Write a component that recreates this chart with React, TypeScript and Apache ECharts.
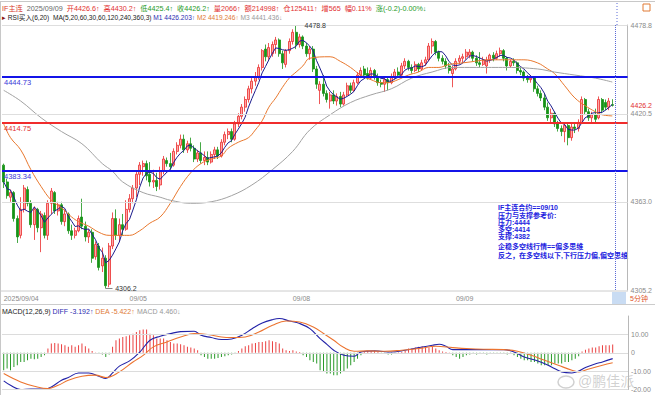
import React, { useEffect, useRef } from "react";
import * as echarts from "echarts";

const FONT = '"Liberation Sans", Arial, "Noto Sans CJK SC", sans-serif';

// ---------- axis / tick data ----------
const slotCount = 184;
const dayStartIdx = [0, 37, 85, 133];
const dayLabels = ["2025/09/04", "09/05", "09/08", "09/09"];
const priceMin = 4305.2;
const priceMax = 4478.8;
const priceAxisLabels = [4478.8, 4426.2, 4420.5, 4363.0, 4305.2];
const priceGridLines = [4478.8, 4420.5, 4363.0];
const lastPrice = 4426.2;
const pressureLevel = 4444.73;
const pivotLevel = 4414.75;
const supportLevel = 4383.34;
const highMark = [86, 4478.8];
const lowMark = [30, 4306.2];
const nowSlot = 180;
const macdMin = -20;
const macdMax = 20;
const macdGridLines = [10, 0, -10, -20];

// ---------- candles: [open, close, low, high] ----------
const candles: number[][] = [
  [4387, 4376, 4372, 4388], [4376, 4367, 4365, 4378], [4366, 4369, 4363, 4371], [4369, 4352, 4350, 4370],
  [4352, 4340, 4336, 4354], [4341, 4358, 4339, 4366], [4358, 4372, 4356, 4374], [4371, 4362, 4360, 4373],
  [4362, 4348, 4346, 4364], [4348, 4358, 4338, 4360], [4358, 4346, 4343, 4359], [4346, 4355, 4330, 4357],
  [4354, 4341, 4339, 4356], [4341, 4362, 4338, 4364], [4362, 4370, 4355, 4372], [4369, 4357, 4355, 4370],
  [4357, 4361, 4354, 4363], [4361, 4350, 4348, 4363], [4350, 4355, 4347, 4358], [4355, 4344, 4342, 4356],
  [4344, 4341, 4338, 4348], [4341, 4344, 4339, 4346], [4344, 4352, 4343, 4354], [4353, 4347, 4345, 4365],
  [4347, 4340, 4337, 4350], [4340, 4343, 4336, 4345], [4343, 4326, 4323, 4345], [4327, 4335, 4325, 4337],
  [4334, 4320, 4318, 4336], [4321, 4326, 4317, 4333], [4326, 4308, 4306.2, 4328], [4309, 4334, 4307, 4336],
  [4334, 4352, 4332, 4356], [4352, 4341, 4338, 4358], [4341, 4348, 4337, 4352], [4348, 4345, 4341, 4355],
  [4345, 4358, 4344, 4364], [4358, 4365, 4356, 4368], [4365, 4372, 4362, 4374], [4372, 4381, 4366, 4383],
  [4381, 4387, 4374, 4389], [4386, 4388, 4380, 4390], [4388, 4380, 4377, 4390], [4381, 4376, 4373, 4389],
  [4376, 4377, 4372, 4384], [4377, 4373, 4370, 4382], [4374, 4383, 4371, 4386], [4383, 4391, 4381, 4393],
  [4390, 4388, 4386, 4392], [4388, 4386, 4384, 4395], [4387, 4396, 4386, 4398], [4396, 4400, 4394, 4402],
  [4400, 4404, 4398, 4407], [4404, 4397, 4395, 4407], [4397, 4401, 4395, 4403], [4401, 4398, 4396, 4405],
  [4398, 4391, 4389, 4400], [4391, 4395, 4389, 4397], [4395, 4390, 4388, 4402], [4390, 4392, 4387, 4396],
  [4392, 4389, 4387, 4396], [4389, 4394, 4388, 4396], [4394, 4397, 4391, 4399], [4397, 4393, 4391, 4399],
  [4393, 4402, 4392, 4404], [4402, 4407, 4400, 4409], [4407, 4409, 4404, 4411], [4409, 4404, 4402, 4411],
  [4404, 4414, 4403, 4416], [4414, 4419, 4412, 4421], [4419, 4425, 4417, 4427], [4425, 4430, 4422, 4432],
  [4430, 4437, 4428, 4439], [4437, 4442, 4434, 4444], [4442, 4445, 4439, 4448], [4445, 4451, 4443, 4453],
  [4451, 4462, 4449, 4463], [4463, 4458, 4455, 4466], [4458, 4464, 4456, 4467], [4460, 4466, 4458, 4468],
  [4466, 4469, 4460, 4471], [4469, 4460, 4458, 4470], [4460, 4454, 4450, 4462], [4453, 4462, 4451, 4463],
  [4462, 4468, 4460, 4470], [4468, 4474, 4466, 4476], [4474, 4466, 4463, 4478.8], [4466, 4471, 4464, 4473],
  [4471, 4465, 4463, 4472], [4465, 4460, 4458, 4467], [4460, 4463, 4456, 4465], [4463, 4450, 4448, 4465],
  [4450, 4440, 4437, 4452], [4436, 4440, 4427, 4442], [4440, 4434, 4432, 4446], [4434, 4430, 4428, 4436],
  [4429, 4433, 4424, 4435], [4433, 4429, 4427, 4436], [4429, 4432, 4426, 4434], [4432, 4427, 4425, 4435],
  [4427, 4433, 4426, 4435], [4433, 4439, 4432, 4441], [4439, 4436, 4434, 4441], [4436, 4441, 4435, 4443],
  [4441, 4446, 4440, 4448], [4446, 4449, 4444, 4451], [4450, 4446, 4444, 4452], [4447, 4444, 4443, 4451],
  [4444, 4449, 4443, 4451], [4449, 4445, 4443, 4450], [4445, 4441, 4439, 4447], [4441, 4440, 4438, 4443],
  [4440, 4443, 4435, 4445], [4443, 4441, 4436, 4445], [4441, 4445, 4440, 4447], [4445, 4448, 4443, 4450],
  [4448, 4446, 4444, 4451], [4446, 4452, 4445, 4454], [4452, 4455, 4450, 4457], [4455, 4451, 4449, 4456],
  [4451, 4449, 4447, 4453], [4449, 4453, 4448, 4455], [4453, 4450, 4448, 4454], [4450, 4454, 4449, 4456],
  [4454, 4456, 4452, 4458], [4456, 4465, 4455, 4467], [4465, 4468, 4460, 4470], [4468, 4461, 4459, 4469],
  [4461, 4457, 4455, 4462], [4457, 4455, 4453, 4459], [4455, 4452, 4450, 4457], [4452, 4449, 4447, 4454],
  [4447, 4450, 4438, 4452], [4450, 4455, 4449, 4457], [4455, 4457, 4453, 4459], [4457, 4458, 4454, 4460],
  [4458, 4461, 4456, 4463], [4459, 4461, 4457, 4463], [4461, 4457, 4455, 4462], [4457, 4454, 4452, 4459],
  [4454, 4453, 4451, 4461], [4453, 4456, 4452, 4458], [4452, 4456, 4447, 4458], [4456, 4459, 4454, 4460],
  [4459, 4457, 4455, 4461], [4457, 4460, 4456, 4462], [4460, 4462, 4458, 4464], [4462, 4457, 4455, 4463],
  [4457, 4452, 4449, 4458], [4452, 4455, 4451, 4456], [4455, 4454, 4452, 4457], [4454, 4449, 4447, 4455],
  [4449, 4448, 4446, 4451], [4448, 4444, 4442, 4449], [4444, 4443, 4441, 4446], [4443, 4444, 4441, 4446],
  [4444, 4437, 4435, 4445], [4437, 4434, 4432, 4439], [4434, 4431, 4429, 4436], [4431, 4425, 4423, 4434],
  [4425, 4418, 4416, 4428], [4418, 4421, 4415, 4424], [4421, 4414, 4412, 4422], [4414, 4411, 4409, 4416],
  [4411, 4409, 4406, 4413], [4409, 4413, 4402, 4414], [4413, 4405, 4400, 4414], [4405, 4412, 4403, 4414],
  [4412, 4411, 4408, 4415], [4411, 4415, 4409, 4417], [4415, 4430, 4414, 4432], [4430, 4422, 4420, 4431],
  [4422, 4418, 4416, 4424], [4418, 4420, 4414, 4422], [4420, 4417, 4415, 4424], [4418, 4430, 4417, 4432],
  [4430, 4423, 4421, 4431], [4428, 4425, 4423, 4430], [4425, 4429, 4423, 4431], [4426.6, 4426.2, 4425.4, 4430.2],
];

// ---------- moving averages: [bar index, value] ----------
const ma20Points: number[][] = [
  [0, 4414], [2, 4405], [5, 4397], [8, 4384], [11, 4373], [14, 4364], [17, 4359], [20, 4353], [22, 4350],
  [25, 4347], [28, 4343], [31, 4341], [34, 4341], [37, 4341], [40, 4344], [43, 4349], [46, 4353], [49, 4362],
  [52, 4373], [55, 4382], [58, 4388], [61, 4391], [64, 4393], [66, 4398], [69, 4402], [72, 4405], [74, 4410],
  [76, 4416], [78, 4425], [80, 4431], [82, 4438], [84, 4444], [86, 4448], [88, 4452], [90, 4457], [96, 4458],
  [99, 4455], [102, 4451], [105, 4446], [108, 4443], [111, 4441], [113, 4441], [116, 4443], [119, 4446],
  [122, 4448], [125, 4451], [128, 4451], [131, 4453], [135, 4454], [144, 4456], [150, 4456], [153, 4456],
  [157, 4454], [160, 4450], [162, 4447], [165, 4439], [168, 4431], [171, 4426], [174, 4422], [176, 4420],
  [179, 4419.246],
];
const ma60Points: number[][] = [
  [0, 4436], [5, 4429], [11, 4418], [17, 4409], [23, 4401], [29, 4388], [32, 4383], [35, 4376], [41, 4369],
  [46, 4366], [49, 4364], [55, 4362], [61, 4363], [67, 4367], [73, 4374], [79, 4384], [85, 4396], [90, 4410],
  [96, 4420], [102, 4428], [108, 4433], [114, 4437], [120, 4444], [126, 4448], [132, 4451], [139, 4451],
  [148, 4451], [157, 4450], [162, 4448], [168, 4446], [174, 4444], [179, 4441.436],
];

// ---------- MACD ----------
const diffPoints: number[][] = [
  [0, -15.3], [2, -17.7], [5, -20], [8, -19.7], [12, -19.8], [14, -18.6], [17, -15], [19, -13.5], [22, -11],
  [25, -11], [28, -12.8], [30, -14], [32, -11], [34, -7.3], [37, -4.4], [40, 0.4], [43, 6.8], [46, 9],
  [49, 10.4], [52, 11.5], [56, 11.7], [58, 9.5], [61, 8.3], [64, 7.2], [67, 7.5], [70, 9.5], [73, 13.1],
  [76, 16.2], [79, 18], [81, 18.6], [84, 17.3], [87, 15.9], [90, 13.1], [93, 7.7], [95, 4.6], [97, 1.4],
  [100, -1.4], [103, -1.9], [105, 0.4], [109, 1], [114, 0.4], [118, 1.4], [122, 2.8], [126, 4.1], [128, 4.6],
  [130, 3.5], [132, 1.7], [136, 1.7], [141, 1.7], [147, 1.7], [150, 0.4], [153, -2.3], [157, -4.5],
  [161, -7.7], [164, -10.4], [167, -11], [169, -10], [171, -8], [174, -6], [176, -5], [179, -3.192],
];
const deaPoints: number[][] = [
  [0, -11.3], [5, -15.9], [9, -18.2], [13, -19.5], [16, -17.7], [19, -15], [23, -12.8], [27, -12.2],
  [30, -13.5], [34, -10.4], [38, -5], [41, -1.4], [44, 3.2], [48, 5.9], [52, 8.6], [56, 10.4], [60, 9.9],
  [64, 8.6], [67, 8.3], [71, 8.6], [75, 11.3], [79, 15], [83, 17.3], [87, 16.7], [91, 14], [94, 10.5],
  [97, 6.8], [100, 2.8], [103, 0.8], [107, 1], [112, 0.8], [117, 1.4], [122, 2.3], [127, 3.5], [132, 2.8],
  [136, 2.3], [141, 1.9], [147, 1.7], [151, 0.8], [155, -1.4], [159, -4.1], [163, -6.8], [167, -9.5],
  [169, -10.4], [172, -8.8], [176, -6.8], [179, -5.422],
];
const macdHist: number[] = [
  -9.5, -8.6, -9.5, -7.7, -6.8, -5, -5, -4.1, -3.2, -3.6, -3.2, -2.3, -1.4,
  2.3, 5, 5.3, 5, 4.6, 4.1, 3.2, 4.1, 3.2, 4.1, 5, 3.6, 2.3, 0.9, 0.2,
  -0.5, -1, -2.3, -1,
  3.2, 6.8, 7.7, 8.6, 9, 9.5, 10.4, 11.3, 12.2, 12.6, 12.6, 10.4, 9.5, 7.7, 7.7, 7.7, 6.8, 5.9, 5, 5, 4.6, 4.1, 3.2, 2.8, 2.3, 1.4,
  -1.4, -2.3, -3.2, -3.2, -3.2, -2.9, -2.3, -1.9, -1.4, -0.9, -0.5,
  0.9, 2.3, 3.6, 4.1, 5, 5.3, 5.9, 5.9, 6.3, 6.8, 6.3, 5.9, 5, 2.3, 1.4, 0.9, 1.4, 0.7, 0.4,
  -1.4, -2.3, -4.1, -5, -5.9, -9.5, -10.4, -11.3, -11.3,
  -12.2, -12.2, -11.3, -10.4, -8.6, -6.8, -5, -3.2, -1.4,
  0.5, 0.9, 1, 0.9, 0.5, -0.3, -0.5, -0.9, -0.9, -0.5, 0.3, 0.5,
  1, 2.3, 2.3, 2.8, 3.2, 3.6, 3.2, 2.8, 3.2, 2.3, 1.4, 0.7, 0.4, 0.2,
  -1.4, -2.3, -3.2, -2.3, -1.4, -0.9, -0.5, -0.9, -0.5, -0.5, -0.9, -0.2, -0.2, -0.2, -0.5, -0.5, -0.9, -0.5, -1.4,
  -2.3, -3.2, -4.1, -4.1, -5, -5, -5.9, -6.8, -6.8, -6.8, -6.8, -5.9, -5.9, -5.9, -5, -5, -4.1, -3.2, -1.9,
  0.7, 1.6, 2.3, 2.8, 2.8, 3.6, 4.1, 4.1, 4.1, 4.46,
];

// ---------- texts ----------
const header1: [string, string][] = [
  ["IF主连  ", "#d83a2a"], ["2025/09/09  ", "#666666"], ["开4426.6↑  ", "#e23030"], ["高4430.2↑  ", "#e23030"],
  ["低4425.4↑  ", "#1f9a1f"], ["收4426.2↑  ", "#1f9a1f"], ["量2066↑  ", "#e23030"], ["额214998↑  ", "#e23030"],
  ["仓125411↑  ", "#e23030"], ["增565  ", "#e23030"], ["幅0.11%  ", "#e23030"], ["涨(-0.2)-0.00%↓", "#1f9a1f"],
];
const header2: [string, string][] = [
  ["▸ ", "#8a1010"], ["RSI买入(6,20)  ", "#222222"], ["MA(5,20,60,30,60,120,240,360,3) ", "#222222"],
  ["M1 4426.203↑ ", "#2b2bb0"], ["M2 4419.246↑ ", "#e07a35"], ["M3 4441.436↓", "#999999"],
];
const macdHeader: [string, string][] = [
  ["MACD(12,26,9) ", "#222222"], ["DIFF -3.192↑ ", "#2b2bb0"], ["DEA -5.422↑ ", "#e07a35"], ["MACD 4.460↓", "#999999"],
];
const noteLines = [
  "IF主连合约==09/10",
  "压力与支撑参考价:",
  "压力:4444",
  "多空:4414",
  "支撑:4382",
  "企稳多空线行情==偏多思维",
  "反之，在多空线以下,下行压力偏,偏空思维",
];
const periodLabel = "5分钟";
const watermark = "@鹏佳派";

function movingAverage(values: number[], n: number) {
  return values.map((_, i) => {
    const from = Math.max(0, i - n + 1);
    let s = 0;
    for (let k = from; k <= i; k++) s += values[k];
    return +(s / (i - from + 1)).toFixed(2);
  });
}

function richLine(parts: [string, string][], size: number) {
  const rich: Record<string, any> = {};
  let text = "";
  parts.forEach(([t, c], i) => {
    rich["s" + i] = { fill: c, fontSize: size, fontFamily: FONT };
    text += `{s${i}|${t}}`;
  });
  return { text, rich };
}

export default function App() {
  const ref = useRef<HTMLDivElement>(null);

  useEffect(() => {
    if (!ref.current) return;
    const chart = echarts.init(ref.current, undefined, { renderer: "svg" });

    const categories = Array.from({ length: slotCount }, (_, i) => String(i));
    const closes = candles.map((c) => c[1]);
    const ma5 = movingAverage(closes, 5);

    const h1 = richLine(header1, 7.2);
    const h2 = richLine(header2, 6.6);
    const hm = richLine(macdHeader, 7);

    const levelLine = (value: number, color: string, labelColor: string) => ({
      yAxis: value,
      lineStyle: { color, width: 1.8, type: "solid" },
      label: {
        show: true,
        position: "insideStartBottom",
        formatter: value.toFixed(2),
        color: labelColor,
        fontSize: 7.5,
        fontFamily: FONT,
        distance: 2,
      },
    });

    const option: any = {
      animation: false,
      backgroundColor: "#ffffff",
      textStyle: { fontFamily: FONT },
      grid: [
        { left: 2, right: 27, top: 25, height: 265 },
        { left: 2, right: 27, top: 316, height: 73.5 },
      ],
      xAxis: [
        {
          type: "category",
          gridIndex: 0,
          data: categories,
          boundaryGap: true,
          axisLine: { show: false },
          axisTick: { show: false },
          splitLine: { show: false },
          axisLabel: {
            interval: 0,
            align: "left",
            margin: 5,
            fontSize: 7,
            color: "#8a8a8a",
            formatter: (_v: string, idx: number) => {
              const k = dayStartIdx.indexOf(idx);
              return k >= 0 ? dayLabels[k] : "";
            },
          },
        },
        {
          type: "category",
          gridIndex: 1,
          data: categories,
          boundaryGap: true,
          axisLine: { show: false },
          axisTick: { show: false },
          axisLabel: { show: false },
          splitLine: { show: false },
        },
      ],
      yAxis: [
        {
          type: "value",
          gridIndex: 0,
          position: "right",
          min: priceMin,
          max: priceMax,
          splitLine: { show: false },
          axisTick: { show: false },
          axisLine: { show: true, lineStyle: { color: "#b8b8b8" } },
          axisLabel: {
            customValues: priceAxisLabels,
            margin: 3,
            fontSize: 7,
            color: "#8a8a8a",
            formatter: (v: number) =>
              Math.abs(v - lastPrice) < 0.01 ? `{r|${v.toFixed(1)}}` : v.toFixed(1),
            rich: { r: { color: "#e23030", fontSize: 7 } },
          },
        },
        {
          type: "value",
          gridIndex: 1,
          position: "right",
          min: macdMin,
          max: macdMax,
          interval: 10,
          splitLine: { show: false },
          axisTick: { show: false },
          axisLine: { show: true, lineStyle: { color: "#b8b8b8" } },
          axisLabel: {
            margin: 3,
            fontSize: 7,
            color: "#8a8a8a",
            showMaxLabel: false,
            formatter: (v: number) => (v === macdMax ? "" : v === 0 ? "0" : v.toFixed(2)),
          },
        },
      ],
      series: [
        {
          type: "candlestick",
          xAxisIndex: 0,
          yAxisIndex: 0,
          data: candles,
          barWidth: 2.4,
          itemStyle: {
            color: "#ffa6a6",
            color0: "#169316",
            borderColor: "#ea2c2c",
            borderColor0: "#169316",
            borderWidth: 0.8,
          },
          markLine: {
            silent: true,
            symbol: "none",
            animation: false,
            data: [
              ...priceGridLines.map((v) => ({
                yAxis: v,
                lineStyle: { color: "#dedede", width: 1, type: "solid" },
                label: { show: false },
              })),
              levelLine(pressureLevel, "#1414e8", "#3a3ad8"),
              levelLine(pivotLevel, "#f02c2c", "#e23030"),
              levelLine(supportLevel, "#1414e8", "#3a3ad8"),
              {
                xAxis: nowSlot,
                lineStyle: { color: "#5b6bd6", width: 1, type: "dotted" },
                label: { show: false },
              },
              [
                { coord: lowMark, lineStyle: { color: "#666", width: 0.8, type: "solid" }, label: { show: false } },
                { coord: [lowMark[0] + 2.4, lowMark[1]] },
              ],
            ],
          },
          markPoint: {
            silent: true,
            animation: false,
            symbol: "rect",
            symbolSize: 1,
            itemStyle: { color: "rgba(0,0,0,0)" },
            data: [
              {
                coord: highMark,
                label: {
                  show: true,
                  position: "right",
                  distance: 8,
                  formatter: highMark[1].toFixed(1),
                  color: "#333",
                  fontSize: 7,
                  fontFamily: FONT,
                },
              },
              {
                coord: lowMark,
                label: {
                  show: true,
                  position: "right",
                  distance: 9,
                  formatter: lowMark[1].toFixed(1),
                  color: "#333",
                  fontSize: 7,
                  fontFamily: FONT,
                },
              },
            ],
          },
        },
        {
          type: "line",
          name: "MA5",
          xAxisIndex: 0,
          yAxisIndex: 0,
          data: ma5,
          showSymbol: false,
          lineStyle: { color: "#1c1c8c", width: 1 },
          z: 3,
        },
        {
          type: "line",
          name: "MA20",
          xAxisIndex: 0,
          yAxisIndex: 0,
          data: ma20Points,
          smooth: 0.4,
          showSymbol: false,
          lineStyle: { color: "#e8782e", width: 1 },
          z: 3,
        },
        {
          type: "line",
          name: "MA60",
          xAxisIndex: 0,
          yAxisIndex: 0,
          data: ma60Points,
          smooth: 0.4,
          showSymbol: false,
          lineStyle: { color: "#a2a2a2", width: 1 },
          z: 3,
        },
        {
          type: "bar",
          name: "MACD",
          xAxisIndex: 1,
          yAxisIndex: 1,
          barWidth: 1,
          data: macdHist.map((v) => ({
            value: v,
            itemStyle: { color: v >= 0 ? "#ea4040" : "#2a9a2a" },
          })),
          markLine: {
            silent: true,
            symbol: "none",
            animation: false,
            data: macdGridLines.map((v) => ({
              yAxis: v,
              lineStyle: { color: "#dcdcdc", width: 1, type: "solid" },
              label: { show: false },
            })),
          },
        },
        {
          type: "line",
          name: "DIFF",
          xAxisIndex: 1,
          yAxisIndex: 1,
          data: diffPoints,
          smooth: 0.4,
          showSymbol: false,
          lineStyle: { color: "#2323a8", width: 1.1 },
          z: 3,
        },
        {
          type: "line",
          name: "DEA",
          xAxisIndex: 1,
          yAxisIndex: 1,
          data: deaPoints,
          smooth: 0.4,
          showSymbol: false,
          lineStyle: { color: "#ec7430", width: 1.1 },
          z: 3,
        },
      ],
      graphic: [
        { type: "line", shape: { x1: 0, y1: 1.5, x2: 655, y2: 1.5 }, style: { stroke: "#c8c8c8", lineWidth: 1 } },
        { type: "line", shape: { x1: 0.5, y1: 1.5, x2: 0.5, y2: 395 }, style: { stroke: "#c8c8c8", lineWidth: 1 } },
        { type: "line", shape: { x1: 0, y1: 291, x2: 628, y2: 291 }, style: { stroke: "#cccccc", lineWidth: 1 } },
        { type: "line", shape: { x1: 0, y1: 304.5, x2: 655, y2: 304.5 }, style: { stroke: "#cccccc", lineWidth: 1 } },
        {
          type: "line",
          shape: { x1: 617, y1: 3, x2: 617, y2: 25 },
          style: { stroke: "#5b6bd6", lineWidth: 1, lineDash: [1, 2] },
        },
        { type: "rect", shape: { x: 612, y: 292, width: 14, height: 12 }, style: { fill: "#c9dcf3" } },
        {
          type: "text",
          x: 630,
          y: 298,
          style: { text: periodLabel, fill: "#e0552a", fontSize: 7, fontFamily: FONT, verticalAlign: "middle" },
        },
        { type: "rect", shape: { x: 643, y: 4, width: 7, height: 7 }, style: { fill: "none", stroke: "#e07a35", lineWidth: 1 } },
        {
          type: "text",
          x: 2,
          y: 8,
          style: { text: h1.text, rich: h1.rich, fontSize: 7.2, fontFamily: FONT, verticalAlign: "middle" },
        },
        {
          type: "text",
          x: 2,
          y: 17.5,
          style: { text: h2.text, rich: h2.rich, fontSize: 6.6, fontFamily: FONT, verticalAlign: "middle" },
        },
        {
          type: "text",
          x: 2,
          y: 311,
          style: { text: hm.text, rich: hm.rich, fontSize: 7, fontFamily: FONT, verticalAlign: "middle" },
        },
        ...noteLines.map((t, i) => ({
          type: "text",
          x: 498,
          y: [207.5, 215, 222.3, 229.5, 236.8, 246.5, 255][i],
          style: {
            text: t,
            fill: "#1c1ce0",
            fontSize: 7,
            fontWeight: "bold",
            fontFamily: FONT,
            verticalAlign: "middle",
          },
        })),
        {
          type: "text",
          x: 578,
          y: 381,
          style: {
            text: watermark,
            fill: "rgba(150,150,150,0.45)",
            fontSize: 14,
            fontFamily: FONT,
            verticalAlign: "middle",
          },
        },
        {
          type: "ellipse",
          shape: { cx: 566, cy: 382, rx: 8, ry: 6 },
          style: { fill: "none", stroke: "rgba(150,150,150,0.45)", lineWidth: 1.5 },
        },
      ],
    };

    chart.setOption(option);
    return () => chart.dispose();
  }, []);

  return (
    <div
      ref={ref}
      style={{ position: "fixed", left: 0, top: 0, width: 655, height: 395, background: "#fff" }}
    />
  );
}
